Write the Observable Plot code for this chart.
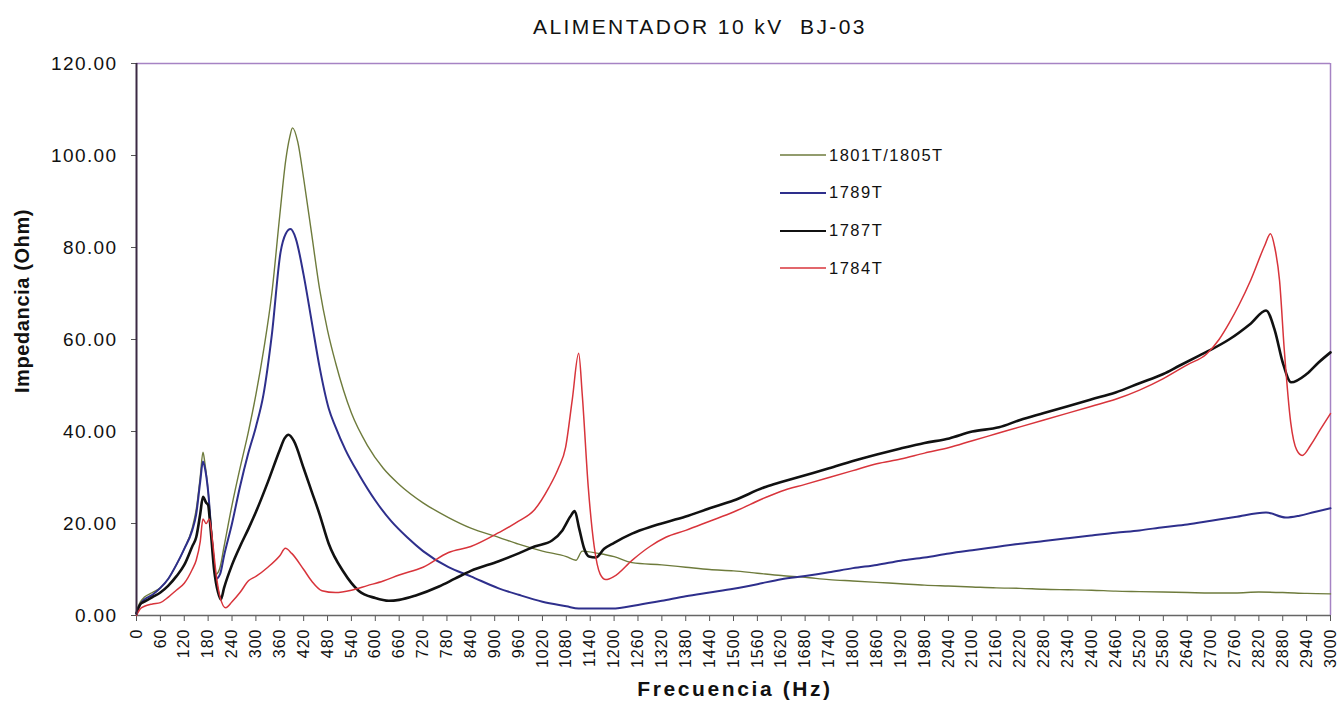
<!DOCTYPE html>
<html>
<head>
<meta charset="utf-8">
<script src="https://cdn.jsdelivr.net/npm/d3@7"></script>
<script src="https://cdn.jsdelivr.net/npm/@observablehq/plot@0.6"></script>
<style>
  html, body { margin: 0; padding: 0; background: #fff; }
  #wrap { position: relative; width: 1339px; height: 704px; font-family: "Liberation Sans", Arial, sans-serif; color: #111; overflow: hidden; }
  #title { position: absolute; top: 15px; left: 400px; width: 600px; text-align: center; font-size: 21px; letter-spacing: 2.4px; }
  #chart { position: absolute; top: 45px; left: 0; }
  #ylab { position: absolute; left: 22px; top: 301px; transform: translate(-50%, -50%) rotate(-90deg); font-weight: bold; font-size: 20px; letter-spacing: 0.6px; white-space: nowrap; }
  #xlab { position: absolute; left: 735px; top: 689px; transform: translate(-50%, -50%); font-weight: bold; font-size: 21px; letter-spacing: 2.6px; white-space: nowrap; }
  #legend { position: absolute; left: 780px; top: 145px; }
  .item { display: flex; align-items: center; height: 20px; margin-bottom: 17.8px; font-size: 16.5px; letter-spacing: 1.5px; }
  .item svg { margin-right: 3px; }
  #chart g[aria-label="x-axis tick label"] text { letter-spacing: 1px; }
  #chart g[aria-label="y-axis tick label"] text { letter-spacing: 1.4px; }
</style>
</head>
<body>
<div id="wrap">
  <div id="title">ALIMENTADOR 10 kV&nbsp; BJ-03</div>
  <div id="chart"></div>
  <div id="ylab">Impedancia (Ohm)</div>
  <div id="xlab">Frecuencia (Hz)</div>
  <div id="legend"></div>
</div>
<script>
// ---- Data ----
const seriesNames = ["1801T/1805T", "1789T", "1787T", "1784T"];
const seriesColors = ["#6e7b3c", "#2e2f8c", "#111111", "#d8343b"];
const seriesWidths = [1.4, 2, 2.6, 1.5];

const yTicks = [0, 20, 40, 60, 80, 100, 120];
const xTicks = d3.range(0, 3001, 60);

const freqGreen = [0,10,20,40,60,80,100,120,140,150,160,167,172,180,190,200,210,220,240,260,280,300,320,340,360,375,385,392,405,420,440,460,480,500,540,580,620,660,720,784,840,910,960,1020,1080,1104,1120,1160,1200,1245,1320,1380,1440,1500,1560,1620,1680,1740,1800,1860,1920,1980,2040,2100,2160,2220,2280,2340,2400,2460,2520,2580,2640,2700,2760,2820,2880,2940,3000];
const valGreen  = [1,3,4,5,6,8,11,14.5,19,23,30,35.5,33,27,17,9,10.5,15,24,32,39.5,48,58,70,87,99,104,106,103,95,83,71,62,55,44,37,32,28.5,24.5,21.3,19,17,15.5,14,12.8,12,14,13.5,12.8,11.5,11,10.5,10,9.7,9.2,8.7,8.3,7.8,7.5,7.2,6.9,6.6,6.4,6.2,6.0,5.9,5.7,5.6,5.5,5.3,5.2,5.1,5.0,4.9,4.9,5.1,5.0,4.8,4.7];

const freqBlue = [0,10,20,40,60,80,100,120,140,150,160,167,172,180,190,200,210,220,240,260,280,300,319,340,362,375,387,400,420,440,460,483,500,525,560,600,640,680,720,784,840,910,960,1020,1080,1111,1195,1260,1320,1380,1440,1500,1560,1620,1680,1740,1800,1860,1920,1980,2042,2100,2160,2220,2280,2340,2400,2460,2520,2580,2640,2700,2760,2838,2888,2922,2960,3000];
const valBlue  = [0.5,2.5,3.5,4.5,6,8,11,14.5,18.5,22,29,33.5,32,27,16,8,9,13,20,28,35,41,48,61,79,83,84,82,74,64,54,45,41,36,30.5,25,20.5,17,14,10.5,8.5,5.9,4.5,3,2,1.5,1.5,2.3,3.2,4.2,5,5.8,6.8,7.9,8.6,9.4,10.3,11,11.9,12.6,13.5,14.2,14.9,15.6,16.2,16.8,17.4,18,18.5,19.2,19.8,20.6,21.4,22.4,21.3,21.7,22.5,23.3];

const freqBlack = [0,10,20,40,60,80,100,120,140,150,160,167,175,180,185,195,205,212,220,240,260,282,300,330,360,372,382,395,420,440,460,483,520,558,600,634,660,700,760,800,840,910,960,1000,1044,1070,1090,1101,1112,1125,1137,1154,1175,1200,1245,1300,1380,1440,1500,1582,1620,1680,1740,1800,1860,1920,1980,2042,2100,2167,2220,2280,2340,2400,2460,2520,2580,2620,2670,2700,2745,2800,2838,2860,2880,2901,2940,2970,3000];
const valBlack  = [0.5,2.5,3,4,5,6.5,8.5,11,15,17,22,25.8,24.5,24,20,10,5,3.5,6,11,15,19,22.5,29,36,38.5,39.3,38,32,27,22,15.6,9.5,5.4,3.8,3.2,3.4,4.3,6.3,8,9.7,11.8,13.5,15,16.3,18.5,21.5,22.7,19,14.5,12.8,12.6,14.5,15.8,17.8,19.5,21.5,23.3,25,28,29,30.5,32,33.6,35,36.3,37.5,38.5,40,40.9,42.5,44,45.5,47,48.5,50.5,52.5,54.3,56.5,57.8,60,63.5,66.3,62,55,50.7,52.5,55,57.2];

const freqRed = [0,10,20,40,60,80,100,120,140,150,160,167,175,183,190,200,210,224,240,260,282,300,330,360,374,390,420,440,466,500,540,580,620,660,720,784,840,910,960,1000,1036,1060,1078,1095,1111,1120,1135,1150,1165,1179,1200,1245,1290,1330,1380,1440,1500,1582,1620,1680,1740,1800,1860,1920,1980,2042,2100,2160,2220,2280,2340,2400,2460,2520,2580,2640,2688,2720,2745,2770,2800,2835,2849,2860,2872,2884,2900,2915,2929,2950,2975,3000];
const valRed  = [0,1.5,2,2.5,2.8,4,5.5,7,10,12,16,21,20,21,17,9,4,1.7,3,5,7.6,8.5,10.5,13,14.6,13.5,10,7.5,5.4,5,5.5,6.5,7.5,8.8,10.5,13.7,15,18,20.5,23,27.8,32,36.5,47,57,48,28,15,9,7.8,8.5,12,15,17,18.5,20.5,22.5,25.7,27,28.5,30,31.5,33,34,35.3,36.5,38,39.5,41,42.5,44,45.5,47,49,51.5,54.5,56.8,60,63.5,67.5,73,80.5,83,80,72.8,57.6,42,36,34.8,37,40.5,43.9];

// ---- Build table ----
const freqs = [freqGreen, freqBlue, freqBlack, freqRed];
const vals = [valGreen, valBlue, valBlack, valRed];
const rows = [];
seriesNames.forEach((name, i) => {
  freqs[i].forEach((f, j) => rows.push({series: name, f, v: vals[i][j]}));
});

const lineMarks = seriesNames.map((name, i) =>
  Plot.line(rows.filter(d => d.series === name), {
    x: "f", y: "v", stroke: seriesColors[i], strokeWidth: seriesWidths[i], curve: "monotone-x"
  })
);

const chart = Plot.plot({
  width: 1339,
  height: 659,
  marginTop: 18,
  marginBottom: 89,
  marginLeft: 136,
  marginRight: 9,
  style: { fontFamily: "'Liberation Sans', Arial, sans-serif", color: "#111", background: "#fff" },
  x: { domain: [0, 3000] },
  y: { domain: [0, 120] },
  marks: [
    Plot.axisY({ ticks: yTicks, tickFormat: d => d.toFixed(2), tickSize: 5, tickPadding: 14, fontSize: 19, label: null, stroke: "#555" }),
    Plot.axisX({ ticks: xTicks, tickFormat: d => String(d), tickRotate: -90, tickSize: 6, tickPadding: 7, fontSize: 16, label: null, stroke: "#555" }),
    Plot.ruleY([yTicks[yTicks.length - 1]], { stroke: "#a683c4", strokeWidth: 1.5 }),
    Plot.ruleX([xTicks[xTicks.length - 1]], { stroke: "#a683c4", strokeWidth: 1.5 }),
    Plot.ruleY([0], { stroke: "#666", strokeWidth: 1.5 }),
    ...lineMarks,
    Plot.ruleX([0], { stroke: "#3b2a44", strokeWidth: 2 })
  ]
});
document.getElementById("chart").appendChild(chart);

// ---- Legend (HTML) ----
const legend = document.getElementById("legend");
seriesNames.forEach((name, i) => {
  const item = document.createElement("div");
  item.className = "item";
  item.innerHTML = `<svg width="46" height="6"><line x1="0" x2="46" y1="3" y2="3" stroke="${seriesColors[i]}" stroke-width="${Math.min(seriesWidths[i], 2)}"/></svg><span>${name}</span>`;
  legend.appendChild(item);
});
</script>
</body>
</html>
